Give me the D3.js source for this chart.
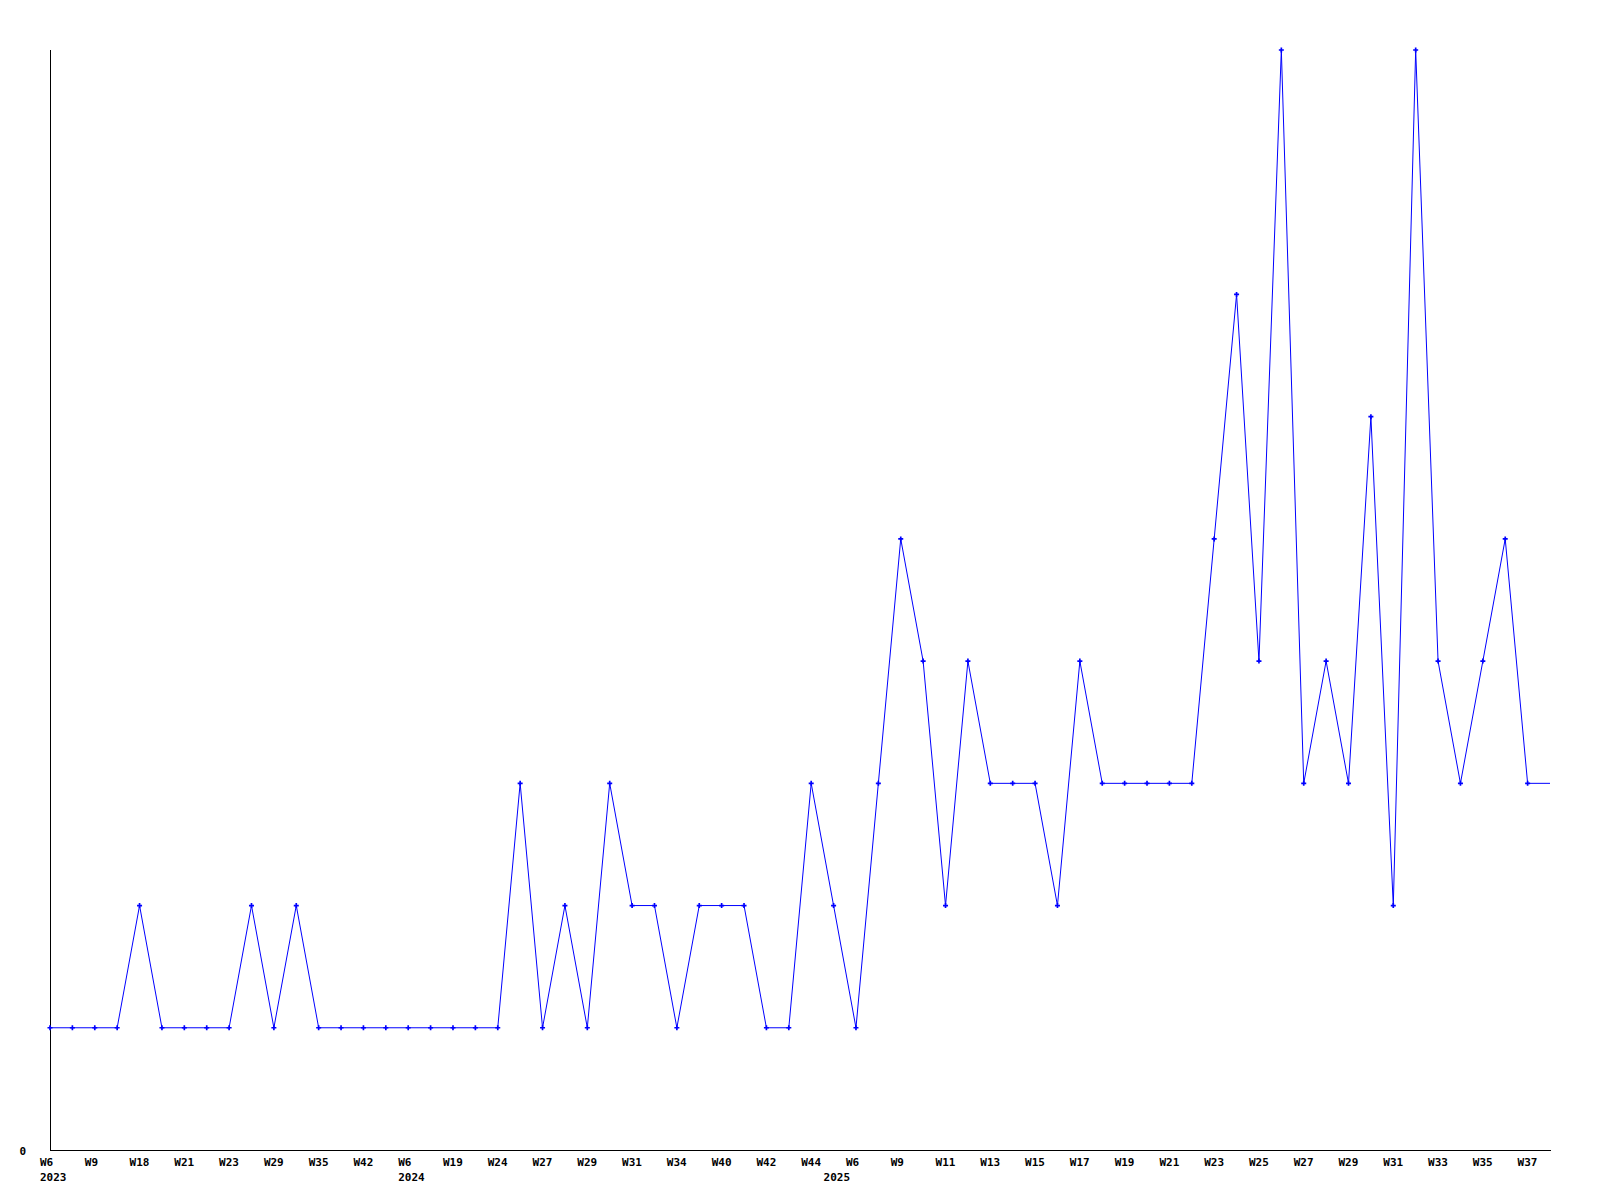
<!DOCTYPE html>
<html>
<head>
<meta charset="utf-8">
<script src="https://cdn.jsdelivr.net/npm/d3@7"></script>
<style>
  body { margin: 0; background: #fff; }
  text { font-family: "DejaVu Sans Mono", monospace; font-weight: bold; font-size: 11px; fill: #000; }
</style>
</head>
<body>
<div id="chart"></div>
<script>
// weekly counts, one per week, last entry is the current (partial) week
const values = [
  1, 1, 1, 1, 2, 1, 1, 1, 1, 2, 1, 2, 1, 1, 1, 1, 1, 1, 1, 1,
  1, 3, 1, 2, 1, 3, 2, 2, 1, 2, 2, 2, 1, 1, 3, 2, 1, 3, 5, 4,
  2, 4, 3, 3, 3, 2, 4, 3, 3, 3, 3, 3, 5, 7, 4, 9, 3, 4, 3, 6,
  2, 9, 4, 3, 4, 5, 3, 3
];
// labels shown on every second week
const weekLabels = [
  'W6', 'W9', 'W18', 'W21', 'W23', 'W29', 'W35', 'W42',
  'W6', 'W19', 'W24', 'W27', 'W29', 'W31', 'W34', 'W40', 'W42', 'W44',
  'W6', 'W9', 'W11', 'W13', 'W15', 'W17', 'W19', 'W21', 'W23', 'W25',
  'W27', 'W29', 'W31', 'W33', 'W35', 'W37'
];
const years = ['2023', '2024', '2025'];
const yearStart = [0, 16, 35];

const width = 1600, height = 1200;
const m = { left: 50, right: 1550, top: 50, bottom: 1150 };

const svg = d3.select('#chart').append('svg')
  .attr('width', width).attr('height', height);

const x = d3.scaleLinear().domain([0, values.length - 1]).range([m.left, m.right]);
const y = d3.scaleLinear().domain([0, d3.max(values)]).range([m.bottom, m.top]);

// axes
svg.append('line')
  .attr('x1', m.left + 0.5).attr('x2', m.left + 0.5)
  .attr('y1', m.top).attr('y2', m.bottom + 1)
  .attr('stroke', '#000').attr('shape-rendering', 'crispEdges');
svg.append('line')
  .attr('x1', m.left).attr('x2', m.right + 1)
  .attr('y1', m.bottom + 0.5).attr('y2', m.bottom + 0.5)
  .attr('stroke', '#000').attr('shape-rendering', 'crispEdges');

svg.append('text')
  .attr('x', 26).attr('y', y(0) + 5)
  .attr('text-anchor', 'end')
  .text('0');

svg.selectAll('text.week')
  .data(weekLabels)
  .enter().append('text')
  .attr('class', 'week')
  .attr('x', (d, i) => x(i * 2) - 10)
  .attr('y', m.bottom + 16)
  .text(d => d);

svg.selectAll('text.year')
  .data(years)
  .enter().append('text')
  .attr('class', 'year')
  .attr('x', (d, i) => x(yearStart[i]) - 10)
  .attr('y', m.bottom + 31)
  .text(d => d);

const line = d3.line()
  .x((d, i) => x(i))
  .y(d => y(d));

svg.append('path')
  .datum(values)
  .attr('d', line)
  .attr('fill', 'none')
  .attr('stroke', '#0000ff')
  .attr('stroke-width', 1);

svg.selectAll('path.pt')
  .data(values.slice(0, -1))
  .enter().append('path')
  .attr('class', 'pt')
  .attr('transform', (d, i) => `translate(${x(i)},${y(d)})`)
  .attr('d', d3.symbol().type(d3.symbolCross).size(14))
  .attr('fill', '#0000ff');
</script>
</body>
</html>
